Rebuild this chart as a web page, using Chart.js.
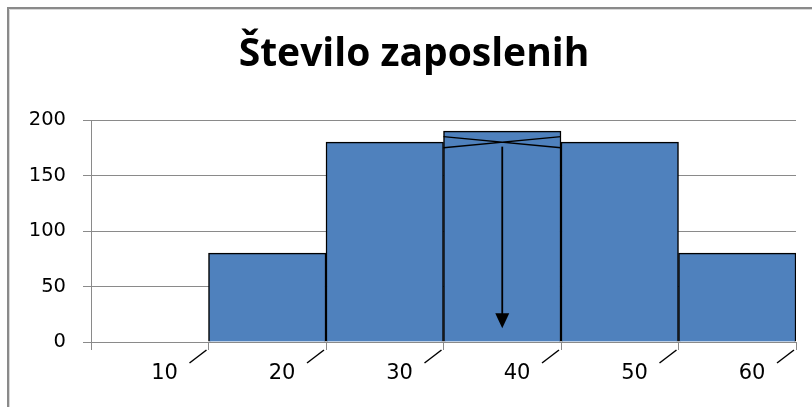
<!DOCTYPE html>
<html>
<head>
<meta charset="utf-8">
<script src="https://cdn.jsdelivr.net/npm/chart.js@4"></script>
<style>
  html, body { margin: 0; padding: 0; background: #fff; }
  #wrap { position: relative; width: 812px; height: 407px; }
</style>
</head>
<body>
<div id="wrap"><canvas id="c"></canvas></div>
<script>
// ---- data ----
const categories = ['0-10', '10-20', '20-30', '30-40', '40-50', '50-60'];
const employees = [0, 80, 180, 190, 180, 80];
const boundaryLabels = ['', '10', '20', '30', '40', '50', '60'];
const titleText = 'Število zaposlenih';

const TITLE_FONT = '"Open Sans", Lato, sans-serif';
const TICK_FONT = '"DejaVu Sans", sans-serif';

const decorPlugin = {
  id: 'decor',
  beforeDraw(chart) {
    const ctx = chart.ctx;
    ctx.save();
    ctx.strokeStyle = '#8a8a8a';
    ctx.lineWidth = 2;
    ctx.beginPath();
    ctx.moveTo(8, chart.height);
    ctx.lineTo(8, 8);
    ctx.lineTo(chart.width, 8);
    ctx.stroke();
    ctx.strokeStyle = '#d8d8d8';
    ctx.lineWidth = 1;
    ctx.beginPath();
    ctx.moveTo(9.5, chart.height);
    ctx.lineTo(9.5, 9.5);
    ctx.lineTo(chart.width, 9.5);
    ctx.stroke();
    ctx.restore();
  },
  afterDatasetsDraw(chart) {
    const ctx = chart.ctx;
    const xs = chart.scales.x, ys = chart.scales.y;
    const half = (xs.getPixelForValue(1) - xs.getPixelForValue(0)) / 2;
    const cx = xs.getPixelForValue(3);
    const l = cx - half, r = cx + half;
    ctx.save();
    ctx.strokeStyle = '#000';
    ctx.lineWidth = 1.3;
    ctx.beginPath();
    ctx.moveTo(l, ys.getPixelForValue(185));
    ctx.lineTo(r, ys.getPixelForValue(175));
    ctx.moveTo(l, ys.getPixelForValue(175));
    ctx.lineTo(r, ys.getPixelForValue(185));
    ctx.stroke();
    const top = ys.getPixelForValue(176);
    const tip = ys.getPixelForValue(12.5);
    ctx.lineWidth = 1.8;
    ctx.beginPath();
    ctx.moveTo(cx, top);
    ctx.lineTo(cx, tip - 10);
    ctx.stroke();
    ctx.fillStyle = '#000';
    ctx.beginPath();
    ctx.moveTo(cx - 7, tip - 15);
    ctx.lineTo(cx + 7, tip - 15);
    ctx.lineTo(cx, tip);
    ctx.closePath();
    ctx.fill();
    ctx.restore();
  },
  afterDraw(chart) {
    const ctx = chart.ctx;
    const xb = chart.scales.x2;
    const b = chart.chartArea.bottom;
    ctx.save();
    ctx.strokeStyle = '#000';
    ctx.lineWidth = 1.5;
    for (let i = 1; i < boundaryLabels.length; i++) {
      const px = xb.getPixelForTick(i);
      ctx.beginPath();
      ctx.moveTo(px - 19, b + 21);
      ctx.lineTo(px - 2, b + 8);
      ctx.stroke();
    }
    ctx.restore();
  }
};

new Chart(document.getElementById('c'), {
  type: 'bar',
  data: {
    labels: categories,
    datasets: [{
      data: employees,
      backgroundColor: '#4F81BD',
      borderColor: '#000',
      borderWidth: 1.5,
      barPercentage: 1,
      categoryPercentage: 1,
      xAxisID: 'x',
      yAxisID: 'y'
    }]
  },
  options: {
    responsive: true,
    maintainAspectRatio: false,
    animation: false,
    layout: { padding: { left: 16, right: 0, top: 0, bottom: 0 } },
    plugins: {
      legend: { display: false },
      tooltip: { enabled: false },
      title: {
        display: true,
        text: titleText,
        color: '#000',
        font: { family: TITLE_FONT, size: 39, weight: 'bold', lineHeight: 1.2 },
        padding: { top: 31, bottom: 42.2 }
      }
    },
    scales: {
      x: {
        type: 'category',
        offset: true,
        display: false,
        grid: { display: false }
      },
      x2: {
        type: 'category',
        labels: boundaryLabels,
        position: 'bottom',
        offset: false,
        grid: { display: true, offset: false, drawOnChartArea: false, drawTicks: true, tickLength: 8, color: '#8a8a8a', lineWidth: 1 },
        border: { display: true, color: '#8a8a8a', width: 1 },
        ticks: { color: '#000', font: { family: TICK_FONT, size: 21 }, padding: 11, labelOffset: -44, maxRotation: 0, autoSkip: false },
        afterFit(s) { s.height = 65; s.paddingLeft = 0; s.paddingRight = 0; }
      },
      y: {
        min: 0, max: 200,
        ticks: { stepSize: 50, color: '#000', font: { family: TICK_FONT, size: 19.5 }, padding: 17 },
        grid: { color: '#8a8a8a', lineWidth: 1, tickLength: 8 },
        border: { display: true, color: '#8a8a8a', width: 1 },
        afterFit(s) { s.width = 75; }
      },
      yR: {
        type: 'linear',
        position: 'right',
        display: true,
        grid: { display: false, drawTicks: false },
        border: { display: false },
        ticks: { display: false },
        afterFit(s) { s.width = 16; }
      }
    }
  },
  plugins: [decorPlugin]
});
</script>
</body>
</html>
